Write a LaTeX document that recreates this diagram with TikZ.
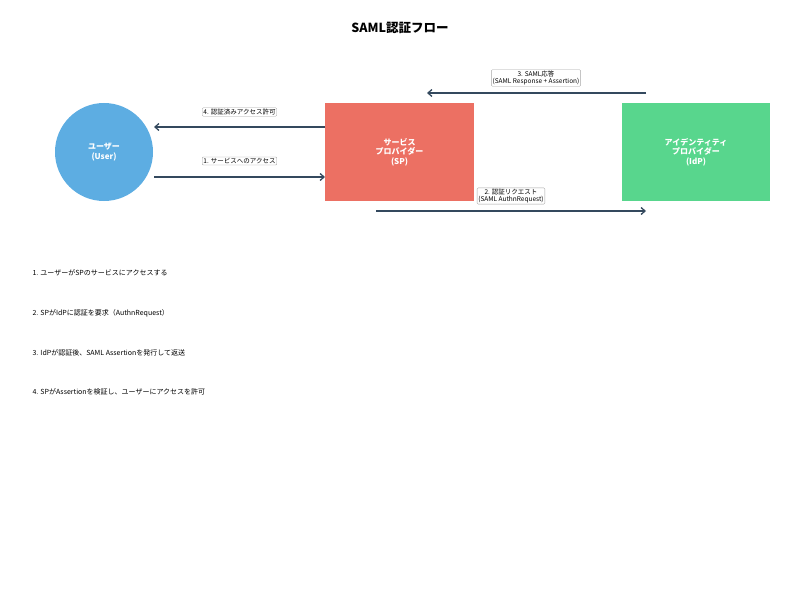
\documentclass[tikz,border=0pt]{standalone}
\usepackage{fontspec}
\setmainfont{Noto Sans CJK JP}
\usetikzlibrary{positioning, arrows.meta}
\definecolor{userblue}{HTML}{5DADE2}
\definecolor{spred}{HTML}{EC7063}
\definecolor{idpgreen}{HTML}{58D68D}
\definecolor{flowgray}{HTML}{34495E}
\tikzset{
  actor/.style={text=white, font=\fontsize{8}{9.5}\selectfont\bfseries, align=center, inner sep=0pt},
  msg/.style={draw=flowgray, line width=1.3pt, -{Straight Barb[length=4pt,width=7pt]}},
  msglabel/.style={draw=gray!70, fill=white, rounded corners=1pt, inner sep=1.2pt, font=\fontsize{6.5}{7}\selectfont, align=center},
  stepnote/.style={anchor=west, font=\fontsize{7}{8}\selectfont}
}
\begin{document}
\begin{tikzpicture}[x=1pt,y=-1pt]
	\useasboundingbox (0,0) rectangle (800,599);
	\node[font=\fontsize{12.5}{14}\selectfont\bfseries] (title) at (400,28) {SAML認証フロー};
	% actors
	\fill[userblue] (104,152) circle (49);
	\node[actor] (user) at (104,152) {ユーザー\\(User)};
	\fill[spred] (325,103) rectangle (474,201);
	\node[actor] (sp) at (399.5,152) {サービス\\プロバイダー\\(SP)};
	\fill[idpgreen] (622,103) rectangle (770,201);
	\node[actor] (idp) at (696,152) {アイデンティティ\\プロバイダー\\(IdP)};
	% end points
	\coordinate (u1) at (154,177); \coordinate (s1) at (325,177);
	\coordinate (u4) at (154,127); \coordinate (s4) at (325,127);
	\coordinate (s2) at (376,211); \coordinate (i2) at (646,211);
	\coordinate (s3) at (427,93);  \coordinate (i3) at (646,93);
	% messages
	\draw[msg] (u1) -- (s1);
	\node[msglabel] (m1) at (239.5,161) {1. サービスへのアクセス};
	\draw[msg] (s2) -- (i2);
	\node[msglabel] (m2) at (511,196) {2. 認証リクエスト\\(SAML AuthnRequest)};
	\draw[msg] (i3) -- (s3);
	\node[msglabel] (m3) at (536,78) {3. SAML応答\\(SAML Response + Assertion)};
	\draw[msg] (s4) -- (u4);
	\node[msglabel] (m4) at (239.5,112) {4. 認証済みアクセス許可};
	% steps
	\node[stepnote] (n1) at (29,273) {1. ユーザーがSPのサービスにアクセスする};
	\node[stepnote] (n2) at (29,313) {2. SPがIdPに認証を要求（AuthnRequest）};
	\node[stepnote] (n3) at (29,353) {3. IdPが認証後、SAML Assertionを発行して返送};
	\node[stepnote] (n4) at (29,392) {4. SPがAssertionを検証し、ユーザーにアクセスを許可};
\end{tikzpicture}
\end{document}
